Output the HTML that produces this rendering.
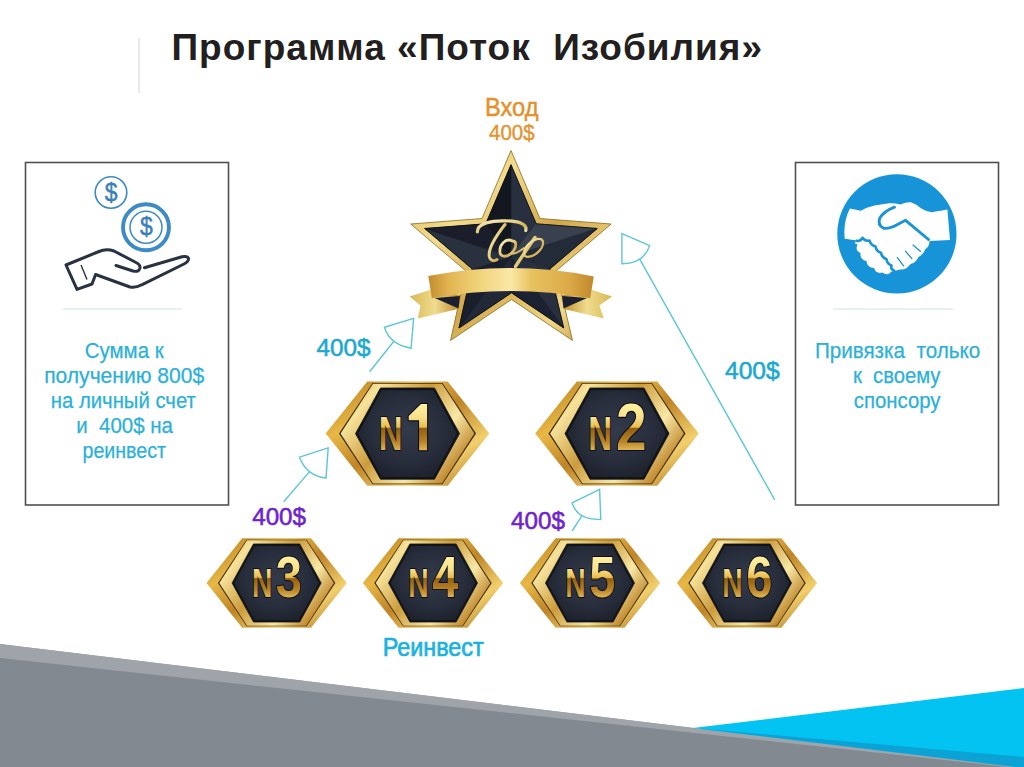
<!DOCTYPE html>
<html><head><meta charset="utf-8">
<style>
html,body{margin:0;padding:0;background:#fff;}
body{width:1024px;height:767px;overflow:hidden;position:relative;font-family:"Liberation Sans",sans-serif;}
svg{position:absolute;left:0;top:0;}
</style></head><body>
<svg width="1024" height="767" viewBox="0 0 1024 767">
<defs>
<linearGradient id="gOuter" x1="0" y1="0" x2="1" y2="1">
<stop offset="0" stop-color="#b07416"/><stop offset="0.28" stop-color="#e8b846"/><stop offset="0.5" stop-color="#bf8426"/><stop offset="0.75" stop-color="#f2cf6c"/><stop offset="1" stop-color="#a26a16"/>
</linearGradient>
<linearGradient id="gInner" x1="0" y1="0" x2="1" y2="0.6">
<stop offset="0" stop-color="#d4a444"/><stop offset="0.22" stop-color="#f6e29a"/><stop offset="0.5" stop-color="#cc9c3c"/><stop offset="0.78" stop-color="#f8e8a6"/><stop offset="1" stop-color="#c0882c"/>
</linearGradient>
<radialGradient id="gDark" cx="0.5" cy="0.45" r="0.65">
<stop offset="0" stop-color="#333a4a"/><stop offset="0.55" stop-color="#282e3c"/><stop offset="1" stop-color="#1a1e28"/>
</radialGradient>
<linearGradient id="gText" gradientUnits="userSpaceOnUse" x1="0" y1="-46.6" x2="0" y2="0.4">
<stop offset="0" stop-color="#fff0a0"/><stop offset="0.3" stop-color="#f8e08a"/><stop offset="0.5" stop-color="#e8bc4c"/><stop offset="0.53" stop-color="#946010"/><stop offset="0.8" stop-color="#b88226"/><stop offset="1" stop-color="#e0b858"/>
</linearGradient>
<linearGradient id="gStar" x1="0" y1="0" x2="1" y2="1">
<stop offset="0" stop-color="#d8b050"/><stop offset="0.3" stop-color="#f2dc8e"/><stop offset="0.55" stop-color="#d2a748"/><stop offset="0.8" stop-color="#f0d888"/><stop offset="1" stop-color="#b8882c"/>
</linearGradient>
<linearGradient id="gRib" x1="0" y1="0" x2="1" y2="0">
<stop offset="0" stop-color="#c28c2c"/><stop offset="0.12" stop-color="#e2b450"/><stop offset="0.3" stop-color="#f0d27a"/><stop offset="0.5" stop-color="#fbe8a6"/><stop offset="0.62" stop-color="#e8c260"/><stop offset="0.85" stop-color="#dcaa48"/><stop offset="1" stop-color="#c0882a"/>
</linearGradient>
<linearGradient id="gTop" x1="0" y1="0" x2="1" y2="1">
<stop offset="0" stop-color="#f8f0c8"/><stop offset="0.4" stop-color="#ead48a"/><stop offset="0.7" stop-color="#d2b054"/><stop offset="1" stop-color="#f2e6b0"/>
</linearGradient>
<linearGradient id="gTail" x1="0" y1="0" x2="1" y2="0">
<stop offset="0" stop-color="#d8b850"/><stop offset="0.5" stop-color="#f0dc90"/><stop offset="1" stop-color="#c08a28"/>
</linearGradient>
<linearGradient id="gTailR" x1="1" y1="0" x2="0" y2="0">
<stop offset="0" stop-color="#d8b850"/><stop offset="0.5" stop-color="#f0dc90"/><stop offset="1" stop-color="#c08a28"/>
</linearGradient>
<symbol id="hx" viewBox="-85 -55 170 110" overflow="visible">
<polygon points="-81.8,0.0 -40.2,-52.2 40.2,-52.2 81.8,0.0 40.2,52.2 -40.2,52.2" fill="url(#gOuter)"/>
<polygon points="-68.5,0.0 -35.0,-50.6 35.0,-50.6 68.5,0.0 35.0,50.6 -35.0,50.6" fill="#3a2a10"/>
<polygon points="-66.9,0.0 -34.5,-49.9 34.5,-49.9 66.9,0.0 34.5,49.9 -34.5,49.9" fill="url(#gInner)"/>
<polygon points="-52.0,0.0 -27.0,-45.6 27.0,-45.6 52.0,0.0 27.0,45.6 -27.0,45.6" fill="#11141b" stroke="#0e1118" stroke-width="0.8"/>
<polygon points="-49.3,0.0 -25.8,-43.3 25.8,-43.3 49.3,0.0 25.8,43.3 -25.8,43.3" fill="url(#gDark)"/>
</symbol>
</defs>
<!-- bottom shapes -->
<polygon points="0,644 1024,768 1024,767 0,767" fill="#9fa4aa"/>
<polygon points="0,644 1024,768 1024,800 0,800" fill="#9fa4aa"/>
<polygon points="0,658 1024,768.6 1024,800 0,800" fill="#838990"/>
<polygon points="693,728 1024,688 1024,768" fill="#03c3f3"/>
<polygon points="693,728 1024,757 1024,768" fill="#0ca2d4"/>
<!-- vertical line -->
<line x1="139" y1="38" x2="139" y2="93" stroke="#e2e2e2" stroke-width="1.5"/>
<!-- boxes -->
<rect x="25.5" y="162.5" width="203" height="342.5" fill="none" stroke="#505050" stroke-width="1.6"/>
<rect x="795.5" y="162.5" width="203" height="342.5" fill="none" stroke="#505050" stroke-width="1.6"/>
<line x1="63" y1="309" x2="182" y2="309" stroke="#d3e3ea" stroke-width="1"/>
<line x1="833" y1="309" x2="953" y2="309" stroke="#d3e3ea" stroke-width="1"/>
<!-- coins icon -->
<g fill="none" stroke="#3d8bc6">
<circle cx="111" cy="192.5" r="15.8" stroke-width="1.6"/>
<circle cx="146" cy="227.3" r="23" stroke-width="3.9"/>
<circle cx="146" cy="227.3" r="16" stroke-width="1.5"/>
</g>
<g fill="#3a80b8" stroke="#3a80b8" stroke-width="0.5" font-family="Liberation Sans" text-anchor="middle">
<text font-size="25.5" transform="translate(111.1,200.5) scale(0.9,1)">$</text>
<text font-size="25.5" transform="translate(146.3,235) scale(0.9,1)">$</text>
</g>
<!-- hand -->
<path d="M116,265.5 L133,271 Q139,272.5 140,268 Q140.5,264.5 136,262.5 L114,251 Q106,248.5 99,251.5 L66,265 L77,289.4 L92,284 L95.6,274.5 L130,287 Q136,288 141.7,284.8 L184,264 Q189,261 188.5,258.5 Q187.5,255.5 182,256.8 L144.4,267.7" fill="none" stroke="#283242" stroke-width="3" stroke-linejoin="round" stroke-linecap="round"/>
<line x1="81" y1="265" x2="87" y2="279.6" stroke="#283242" stroke-width="1.4"/>
<!-- handshake circle -->
<circle cx="896.9" cy="233.9" r="59.6" fill="#1794d8"/>
<path d="M849.9,208.6 L860.9,210.7 Q867,207 874.4,205.4 L889,203.3 Q895,203 900.4,204.4 Q906,202 910.9,202.3 Q916,204 921.3,208.6 Q926,211.5 931.7,212.2 Q937,211.5 942.2,210.6 L947.4,209.6 L950,239.9 L929.6,240.9 Q929.5,246 925.5,249 Q923,255 918.5,257 Q915.5,263 910.5,264 Q906.5,270 900.5,269.5 L891.5,271.5 Q887.5,276.6 882.5,272.5 Q876.1,274.3 874.0,268.0 Q867.1,267.9 866.5,261.0 Q859.8,259.8 860.5,253.0 Q854.7,250.3 857.5,244.5 Q852.7,243.1 857.0,240.5 L844.7,238.8 Q843,222 849.9,208.6 Z" fill="#fff"/>
<path d="M894.5,207.2 Q884.5,211 879.8,218 Q877.2,225 883.5,228.2 Q889.5,229 897,224.8 L905.6,220.3 L928.5,239.5" fill="none" stroke="#1794d8" stroke-width="2.9" stroke-linejoin="round" stroke-linecap="round"/>
<path d="M856.7,240.9 Q860.8,241.6 862.5,237.8 Q865.1,241.6 869.5,240.5 Q870.7,245.3 875.5,246.5 Q876.3,251.4 881.0,252.8 Q881.8,257.7 886.5,259.2 Q887.0,264.0 891.5,265.5 Q890.4,269.2 894.0,270.5" fill="none" stroke="#1794d8" stroke-width="2.6" stroke-linejoin="round" stroke-linecap="round"/>
<path d="M913,245.1 L920.3,251.3 M905.6,251.3 L911.9,258.6 M897.3,257.6 L903.6,265.9" fill="none" stroke="#1794d8" stroke-width="1.3" stroke-linecap="round"/>
<!-- star -->
<polygon points="511.0,150.5 540.0,218.5 611.2,224.0 556.0,271.0 572.5,340.5 511.5,299.5 450.5,340.5 466.0,271.0 410.7,224.0 482.0,218.5" fill="url(#gStar)" stroke="#8a6a22" stroke-width="0.8"/>
<polygon points="511.0,164.8 536.2,223.8 597.2,228.5 549.8,269.0 563.7,327.9 511.5,292.8 459.0,328.0 472.2,268.9 424.7,228.5 485.8,223.8" fill="#1e2432"/>
<polygon points="511.0,256.5 511.0,164.8 536.2,223.8" fill="#283040" stroke="#283040" stroke-width="0.6" stroke-linejoin="round"/><polygon points="511.0,256.5 536.2,223.8 597.2,228.5" fill="#39404e" stroke="#39404e" stroke-width="0.6" stroke-linejoin="round"/><polygon points="511.0,256.5 597.2,228.5 549.8,269.0" fill="#232a38" stroke="#232a38" stroke-width="0.6" stroke-linejoin="round"/><polygon points="511.0,256.5 549.8,269.0 563.7,327.9" fill="#283040" stroke="#283040" stroke-width="0.6" stroke-linejoin="round"/><polygon points="511.0,256.5 563.7,327.9 511.5,292.8" fill="#1b2130" stroke="#1b2130" stroke-width="0.6" stroke-linejoin="round"/><polygon points="511.0,256.5 511.5,292.8 459.0,328.0" fill="#222837" stroke="#222837" stroke-width="0.6" stroke-linejoin="round"/><polygon points="511.0,256.5 459.0,328.0 472.2,268.9" fill="#1a1f2c" stroke="#1a1f2c" stroke-width="0.6" stroke-linejoin="round"/><polygon points="511.0,256.5 472.2,268.9 424.7,228.5" fill="#29303e" stroke="#29303e" stroke-width="0.6" stroke-linejoin="round"/><polygon points="511.0,256.5 424.7,228.5 485.8,223.8" fill="#1a1e2a" stroke="#1a1e2a" stroke-width="0.6" stroke-linejoin="round"/><polygon points="511.0,256.5 485.8,223.8 511.0,164.8" fill="#13171f" stroke="#13171f" stroke-width="0.6" stroke-linejoin="round"/>
<polygon points="511.0,164.8 536.2,223.8 597.2,228.5 549.8,269.0 563.7,327.9 511.5,292.8 459.0,328.0 472.2,268.9 424.7,228.5 485.8,223.8" fill="none" stroke="#0e1014" stroke-width="0.8"/>
<g fill="none" stroke="url(#gTop)" stroke-linecap="round">
<path d="M477.4,232 C477,223.5 492,220.5 505,220.8 C517,221 527.5,223 525.8,230.5" stroke-width="3.2"/>
<path d="M505,224.5 C496,236 488,249 489.3,256.5 C490.3,261 494,261.5 497,259.5" stroke-width="3"/>
<path d="M512.5,241 C505.5,237.5 499,245 500,252.5 C501,258.5 509.5,257 514,250 C517,245 516,241 512.5,241" stroke-width="2.8"/>
<path d="M512,253.5 C515.5,254.5 519.5,251.5 524,248" stroke-width="1.8"/>
<path d="M535,237.5 C529,246 521,258 515.5,266.5" stroke-width="3.4"/>
<path d="M525,249 C529,241 540.5,235.5 542.8,241 C544.5,248 535,257 527,256.8 C523.5,256.5 523.5,252.5 525,249" stroke-width="2.2"/>
</g>
<!-- ribbon -->
<polygon points="409.6,296.5 433,289 460,295 458,309 417.8,318.4 420.5,305.6" fill="url(#gTail)"/>
<polygon points="434.7,298 460,296 458.5,308.5" fill="#1b2030"/>
<polygon points="612.1,296.5 589,289 562,295 564,309 603.9,318.4 599.3,305.6" fill="url(#gTailR)"/>
<polygon points="562,296 587,298 563.5,308.5" fill="#1b2030"/>
<path d="M428.3,276 Q511,260 593.8,276.4 L590.2,298.3 Q511,283.7 431.9,298.3 Z" fill="url(#gRib)"/>
<!-- hexagons -->
<g transform="translate(407.5,433.6) scale(1)">
<use href="#hx" x="-85" y="-55" width="170" height="110"/>
<g font-family="Liberation Sans" font-weight="bold">
<g fill="none" stroke="#080a0e" stroke-width="2.2" stroke-linejoin="round" opacity="0.9"><text transform="translate(-28.8,16.6) scale(0.68,1)" font-size="48.4">N</text><path transform="translate(0,16.6)" d="M1.2,-34.1 L13.5,-46.2 L19.6,-46.2 L19.6,0 L11.6,0 L11.6,-29.9 L1.2,-29.9 Z"/></g>
<g fill="url(#gText)"><text transform="translate(-28.8,16.6) scale(0.68,1)" font-size="48.4">N</text><path transform="translate(0,16.6)" d="M1.2,-34.1 L13.5,-46.2 L19.6,-46.2 L19.6,0 L11.6,0 L11.6,-29.9 L1.2,-29.9 Z"/></g>
</g></g>
<g transform="translate(617,433.6) scale(1)">
<use href="#hx" x="-85" y="-55" width="170" height="110"/>
<g font-family="Liberation Sans" font-weight="bold">
<g fill="none" stroke="#080a0e" stroke-width="2.2" stroke-linejoin="round" opacity="0.9"><text transform="translate(-28.8,16.6) scale(0.68,1)" font-size="48.4">N</text><text transform="translate(-0.9,16.6) scale(0.82,1)" font-size="67">2</text></g>
<g fill="url(#gText)"><text transform="translate(-28.8,16.6) scale(0.68,1)" font-size="48.4">N</text><text transform="translate(-0.9,16.6) scale(0.82,1)" font-size="67">2</text></g>
</g></g>
<g transform="translate(276.6,583) scale(0.857)">
<use href="#hx" x="-85" y="-55" width="170" height="110"/>
<g font-family="Liberation Sans" font-weight="bold">
<g fill="none" stroke="#080a0e" stroke-width="2.2" stroke-linejoin="round" opacity="0.9"><text transform="translate(-28.8,16.6) scale(0.68,1)" font-size="48.4">N</text><text transform="translate(-0.9,16.6) scale(0.82,1)" font-size="67">3</text></g>
<g fill="url(#gText)"><text transform="translate(-28.8,16.6) scale(0.68,1)" font-size="48.4">N</text><text transform="translate(-0.9,16.6) scale(0.82,1)" font-size="67">3</text></g>
</g></g>
<g transform="translate(433,583) scale(0.857)">
<use href="#hx" x="-85" y="-55" width="170" height="110"/>
<g font-family="Liberation Sans" font-weight="bold">
<g fill="none" stroke="#080a0e" stroke-width="2.2" stroke-linejoin="round" opacity="0.9"><text transform="translate(-28.8,16.6) scale(0.68,1)" font-size="48.4">N</text><text transform="translate(-0.9,16.6) scale(0.82,1)" font-size="67">4</text></g>
<g fill="url(#gText)"><text transform="translate(-28.8,16.6) scale(0.68,1)" font-size="48.4">N</text><text transform="translate(-0.9,16.6) scale(0.82,1)" font-size="67">4</text></g>
</g></g>
<g transform="translate(590,583) scale(0.857)">
<use href="#hx" x="-85" y="-55" width="170" height="110"/>
<g font-family="Liberation Sans" font-weight="bold">
<g fill="none" stroke="#080a0e" stroke-width="2.2" stroke-linejoin="round" opacity="0.9"><text transform="translate(-28.8,16.6) scale(0.68,1)" font-size="48.4">N</text><text transform="translate(-0.9,16.6) scale(0.82,1)" font-size="67">5</text></g>
<g fill="url(#gText)"><text transform="translate(-28.8,16.6) scale(0.68,1)" font-size="48.4">N</text><text transform="translate(-0.9,16.6) scale(0.82,1)" font-size="67">5</text></g>
</g></g>
<g transform="translate(747,583) scale(0.857)">
<use href="#hx" x="-85" y="-55" width="170" height="110"/>
<g font-family="Liberation Sans" font-weight="bold">
<g fill="none" stroke="#080a0e" stroke-width="2.2" stroke-linejoin="round" opacity="0.9"><text transform="translate(-28.8,16.6) scale(0.68,1)" font-size="48.4">N</text><text transform="translate(-0.9,16.6) scale(0.82,1)" font-size="67">6</text></g>
<g fill="url(#gText)"><text transform="translate(-28.8,16.6) scale(0.68,1)" font-size="48.4">N</text><text transform="translate(-0.9,16.6) scale(0.82,1)" font-size="67">6</text></g>
</g></g>
<!-- arrows -->
<g fill="none" stroke="#5cc6d8" stroke-width="1.4">
<line x1="369.6" y1="371.7" x2="393.9" y2="341.3"/>
<path d="M413.6,318.4 L384.4,327.3 Q390,344.8 411.1,348.2 Z"/>
<line x1="283.7" y1="501.7" x2="309.6" y2="471.6"/>
<path d="M328.2,447.9 L299.5,457.2 Q306.4,475.6 326,478 Z"/>
<line x1="572.1" y1="531" x2="582" y2="515.7"/>
<path d="M599.6,489.4 L572.1,502.9 Q577.5,520.3 600.8,519.3 Z"/>
<line x1="774.7" y1="499.8" x2="639.7" y2="259.2"/>
<path d="M621.9,233.7 L649.7,245.6 Q643.6,263.7 621.9,263.8 Z"/>
</g>
<!-- labels -->
<g font-family="Liberation Sans" style="white-space:pre">
<text x="171.5" y="60" font-size="37" font-weight="bold" fill="#231f20" textLength="590.5" lengthAdjust="spacing">Программа «Поток&#160; Изобилия»</text>
<text x="485" y="116" font-size="25.5" fill="#e5912b" stroke="#e5912b" stroke-width="0.5" textLength="53.5" lengthAdjust="spacingAndGlyphs">Вход</text>
<text x="489" y="140" font-size="21.5" fill="#e5932f" stroke="#e5932f" stroke-width="0.4" textLength="45.6" lengthAdjust="spacingAndGlyphs">400$</text>
<text x="316.5" y="356" font-size="24.2" fill="#1ba8d2" stroke="#1ba8d2" stroke-width="0.55" textLength="54" lengthAdjust="spacingAndGlyphs">400$</text>
<text x="725" y="379" font-size="24.2" fill="#1ba8d2" stroke="#1ba8d2" stroke-width="0.55" textLength="54.6" lengthAdjust="spacingAndGlyphs">400$</text>
<text x="252.2" y="524.6" font-size="24.2" fill="#6e22d0" stroke="#6e22d0" stroke-width="0.55" textLength="53.8" lengthAdjust="spacingAndGlyphs">400$</text>
<text x="511.1" y="529.2" font-size="24.2" fill="#6e22d0" stroke="#6e22d0" stroke-width="0.55" textLength="53.9" lengthAdjust="spacingAndGlyphs">400$</text>
<text x="382.7" y="656" font-size="25.5" fill="#1ab2e0" textLength="101" lengthAdjust="spacingAndGlyphs" stroke="#1ab2e0" stroke-width="0.7">Реинвест</text>
<g font-size="22" fill="#2ab0da" stroke="#2ab0da" stroke-width="0.25">
<text x="84.8" y="358" textLength="78.9" lengthAdjust="spacingAndGlyphs">Сумма к</text>
<text x="44.2" y="383" textLength="160" lengthAdjust="spacingAndGlyphs">получению 800$</text>
<text x="50.8" y="408" textLength="145" lengthAdjust="spacingAndGlyphs">на личный счет</text>
<text x="76.3" y="433" textLength="96.7" lengthAdjust="spacingAndGlyphs">и&#160; 400$ на</text>
<text x="82.5" y="458" textLength="83.5" lengthAdjust="spacingAndGlyphs">реинвест</text>
<text x="814.9" y="358" textLength="165.3" lengthAdjust="spacingAndGlyphs">Привязка&#160; только</text>
<text x="852.9" y="383" textLength="87.6" lengthAdjust="spacingAndGlyphs">к&#160; своему</text>
<text x="853.8" y="408" textLength="86.7" lengthAdjust="spacingAndGlyphs">спонсору</text>
</g>
</g>
</svg>
</body></html>
